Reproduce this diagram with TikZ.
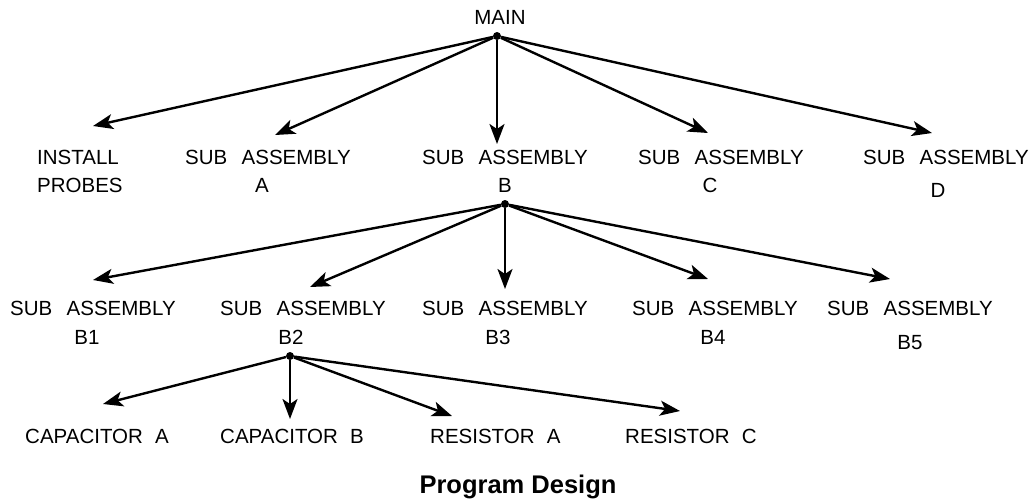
\documentclass[tikz,border=0pt]{standalone}
\usepackage{fontspec}
\setmainfont{Liberation Sans}
\usetikzlibrary{arrows.meta}
\begin{document}
\begin{tikzpicture}[x=1pt,y=-1pt,
  lbl/.style={font=\fontsize{20.5}{23}\selectfont, inner sep=0pt, anchor=base west},
  sub/.style={font=\fontsize{20.5}{23}\selectfont, inner sep=0pt, anchor=base},
  arr/.style={line width=2.4pt, -{Stealth[length=20pt,width=15pt,inset=5pt]}},
  dotnode/.style={circle, fill, inner sep=0pt, minimum size=8pt},
  ttl/.style={font=\bfseries\fontsize{25.5}{30}\selectfont, inner sep=0pt, anchor=base}]
\useasboundingbox (0,0) rectangle (1030,499);
\newcommand{\sa}{SUB\hspace{0.7em}ASSEMBLY}
% top
\node[sub] (main) at (500,24) {MAIN};
\node[dotnode] (m) at (497,36) {};
% level 1 labels
\node[lbl] (inst) at (37,164) {INSTALL};
\node[lbl] (inst2) at (37,192) {PROBES};
\node[lbl] (sa) at (185,164) {\sa};
\node[sub] (sa2) at (262,192) {A};
\node[lbl] (sb) at (422,164) {\sa};
\node[sub] (sb2) at (505,192) {B};
\node[lbl] (sc) at (638,164) {\sa};
\node[sub] (sc2) at (710,192) {C};
\node[lbl] (sd) at (863,164) {\sa};
\node[sub] (sd2) at (938,197) {D};
% level 1 arrow tips
\coordinate (tinst) at (93,126);
\coordinate (ta) at (275,135);
\coordinate (tb) at (497,144);
\coordinate (tc) at (708,133);
\coordinate (td) at (932,133);
\foreach \t in {tinst,ta,tb,tc,td} \draw[arr] (m) -- (\t);
% B dot
\node[dotnode] (bd) at (505,204) {};
% level 2 labels
\node[lbl] (b1) at (10,315) {\sa};
\node[sub] (b12) at (87,344) {B1};
\node[lbl] (b2) at (220,315) {\sa};
\node[sub] (b22) at (291,344) {B2};
\node[lbl] (b3) at (422,315) {\sa};
\node[sub] (b32) at (498,344) {B3};
\node[lbl] (b4) at (632,315) {\sa};
\node[sub] (b42) at (713,344) {B4};
\node[lbl] (b5) at (827,315) {\sa};
\node[sub] (b52) at (910,349) {B5};
% level 2 arrow tips
\coordinate (tb1) at (93,280);
\coordinate (tb2) at (310,287);
\coordinate (tb3) at (505,289);
\coordinate (tb4) at (708,279);
\coordinate (tb5) at (890,279);
\foreach \t in {tb1,tb2,tb3,tb4,tb5} \draw[arr] (bd) -- (\t);
% B2 dot
\node[dotnode] (b2d) at (290,356) {};
% level 3 labels
\node[lbl] (ca) at (25,443) {CAPACITOR\hspace{0.6em}A};
\node[lbl] (cb) at (220,443) {CAPACITOR\hspace{0.6em}B};
\node[lbl] (ra) at (430,443) {RESISTOR\hspace{0.6em}A};
\node[lbl] (rc) at (625,443) {RESISTOR\hspace{0.6em}C};
% level 3 arrow tips
\coordinate (tca) at (103,404);
\coordinate (tcb) at (290,419);
\coordinate (tra) at (452,416);
\coordinate (trc) at (680,411);
\foreach \t in {tca,tcb,tra,trc} \draw[arr] (b2d) -- (\t);
% title
\node[ttl] (title) at (518,493) {Program Design};
\end{tikzpicture}
\end{document}
